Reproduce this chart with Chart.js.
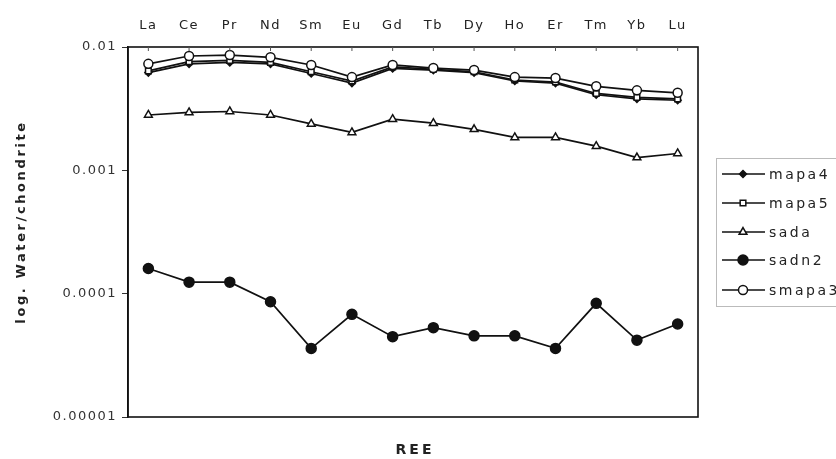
<!DOCTYPE html>
<html>
<head>
<meta charset="utf-8">
<script src="https://cdn.jsdelivr.net/npm/chart.js@4"></script>
<style>
html,body{margin:0;padding:0;background:#fff;}
#wrap{width:836px;height:459px;}
</style>
</head>
<body>
<div id="wrap"><canvas id="c" width="836" height="459"></canvas></div>
<script>
const categories = ['La','Ce','Pr','Nd','Sm','Eu','Gd','Tb','Dy','Ho','Er','Tm','Yb','Lu'];
const mapa4  = [6.2e-3, 7.3e-3, 7.5e-3, 7.3e-3, 6.1e-3, 5.1e-3, 6.7e-3, 6.5e-3, 6.2e-3, 5.3e-3, 5.1e-3, 4.1e-3, 3.8e-3, 3.7e-3];
const mapa5  = [6.4e-3, 7.6e-3, 7.8e-3, 7.5e-3, 6.3e-3, 5.3e-3, 6.9e-3, 6.6e-3, 6.3e-3, 5.4e-3, 5.2e-3, 4.2e-3, 3.9e-3, 3.8e-3];
const sada   = [2.81e-3, 2.95e-3, 3.0e-3, 2.81e-3, 2.38e-3, 2.03e-3, 2.6e-3, 2.41e-3, 2.15e-3, 1.85e-3, 1.85e-3, 1.57e-3, 1.27e-3, 1.37e-3];
const sadn2  = [1.6e-4, 1.24e-4, 1.24e-4, 8.6e-5, 3.6e-5, 6.8e-5, 4.48e-5, 5.3e-5, 4.55e-5, 4.55e-5, 3.6e-5, 8.35e-5, 4.2e-5, 5.68e-5];
const smapa3 = [7.3e-3, 8.45e-3, 8.6e-3, 8.25e-3, 7.15e-3, 5.7e-3, 7.15e-3, 6.75e-3, 6.5e-3, 5.7e-3, 5.6e-3, 4.8e-3, 4.45e-3, 4.25e-3];
const yTickValues = [1e-5, 1e-4, 1e-3, 1e-2];
const yTickLabels = ['0.00001', '0.0001', '0.001', '0.01'];
const xTitle = 'REE';
const yTitle = 'log. Water/chondrite';

const FONT = '"DejaVu Sans", "Liberation Sans", Arial, sans-serif';
const TICK_SPACING = '1.5px';

function ds(label, data, style, fill, order, radius) {
  return {
    label, data, order,
    borderColor: '#111', borderWidth: 1.7,
    pointStyle: style, pointRadius: radius, pointHoverRadius: radius,
    pointBackgroundColor: fill, pointBorderColor: '#111', pointBorderWidth: 1.5,
    tension: 0, fill: false
  };
}

const decorPlugin = {
  id: 'decor',
  beforeLayout(chart) { chart.ctx.letterSpacing = TICK_SPACING; },
  beforeDraw(chart) { chart.ctx.letterSpacing = TICK_SPACING; },
  afterDraw(chart) {
    const ctx = chart.ctx;
    const a = chart.chartArea;
    ctx.save();
    // plot border
    ctx.strokeStyle = '#111';
    ctx.lineWidth = 1.6;
    ctx.strokeRect(a.left, a.top, a.right - a.left, a.bottom - a.top);
    // inward tick marks on top axis
    const xs = chart.scales.x;
    ctx.lineWidth = 1;
    ctx.strokeStyle = '#555';
    for (let i = 0; i < categories.length; i++) {
      const px = xs.getPixelForValue(i);
      ctx.beginPath(); ctx.moveTo(px, a.top); ctx.lineTo(px, a.top + 4); ctx.stroke();
    }
    // axis titles
    ctx.fillStyle = '#222';
    ctx.letterSpacing = '3px';
    ctx.font = 'bold 14px ' + FONT;
    ctx.textAlign = 'center';
    ctx.textBaseline = 'middle';
    ctx.fillText(xTitle, (a.left + a.right) / 2 + 2, 450);
    ctx.letterSpacing = '2.6px';
    ctx.font = 'bold 13px ' + FONT;
    ctx.save();
    ctx.translate(22, (a.top + a.bottom) / 2 - 10);
    ctx.rotate(-Math.PI / 2);
    ctx.fillText(yTitle, 0, 0);
    ctx.restore();
    // legend
    const lx = 716, ly = 158, lh = 148;
    ctx.strokeStyle = '#bbb';
    ctx.lineWidth = 1;
    ctx.strokeRect(lx + 0.5, ly + 0.5, 140, lh);
    const rowY = [174, 203, 232, 260, 290];
    chart.data.datasets.forEach((d, i) => {
      const y = rowY[i];
      ctx.strokeStyle = '#111';
      ctx.lineWidth = 1.6;
      ctx.beginPath(); ctx.moveTo(722, y); ctx.lineTo(765, y); ctx.stroke();
      ctx.fillStyle = d.pointBackgroundColor;
      ctx.lineWidth = 1.5;
      Chart.helpers.drawPoint(ctx, {pointStyle: d.pointStyle, radius: d.pointRadius, borderWidth: 1.5}, 743, y);
      ctx.fillStyle = '#222';
      ctx.font = '14px ' + FONT;
      ctx.letterSpacing = '2.5px';
      ctx.textBaseline = 'middle';
      ctx.textAlign = 'left';
      ctx.fillText(d.label, 769, y + 1);
    });
    ctx.restore();
  }
};

new Chart(document.getElementById('c'), {
  type: 'line',
  data: {
    labels: categories,
    datasets: [
      ds('mapa4', mapa4, 'rectRot', '#111', 3, 3.5),
      ds('mapa5', mapa5, 'rect', '#fff', 2, 4),
      ds('sada', sada, 'triangle', '#fff', 1, 4.5),
      ds('sadn2', sadn2, 'circle', '#111', 1, 5),
      ds('smapa3', smapa3, 'circle', '#fff', 0, 4.5)
    ]
  },
  options: {
    responsive: false,
    animation: false,
    layout: { padding: { left: 0, right: 138, top: 0, bottom: 0 } },
    plugins: { legend: { display: false }, tooltip: { enabled: false } },
    scales: {
      x: {
        type: 'category',
        position: 'top',
        offset: true,
        afterFit(s) { s.height = 47; },
        grid: { display: false, drawTicks: false },
        border: { display: false },
        ticks: { color: '#222', font: { family: FONT, size: 13 }, padding: 14, maxRotation: 0, autoSkip: false }
      },
      x2: {
        type: 'category',
        labels: categories,
        position: 'bottom',
        offset: true,
        afterFit(s) { s.height = 42; },
        grid: { display: false, drawTicks: false },
        border: { display: false },
        ticks: { display: false }
      },
      y: {
        type: 'logarithmic',
        min: 1e-5,
        max: 1e-2,
        afterFit(s) { s.width = 128; },
        afterBuildTicks(s) { s.ticks = yTickValues.map(v => ({ value: v })); },
        grid: { display: true, drawOnChartArea: false, drawTicks: true, tickLength: 6, color: '#333' },
        border: { display: true, color: '#111', width: 1.6 },
        ticks: {
          color: '#333', font: { family: FONT, size: 13 }, padding: 5,
          callback(v) { const i = yTickValues.findIndex(t => Math.abs(t - v) / t < 1e-6); return i >= 0 ? yTickLabels[i] : ''; }
        }
      }
    }
  },
  plugins: [decorPlugin]
});
</script>
</body>
</html>
